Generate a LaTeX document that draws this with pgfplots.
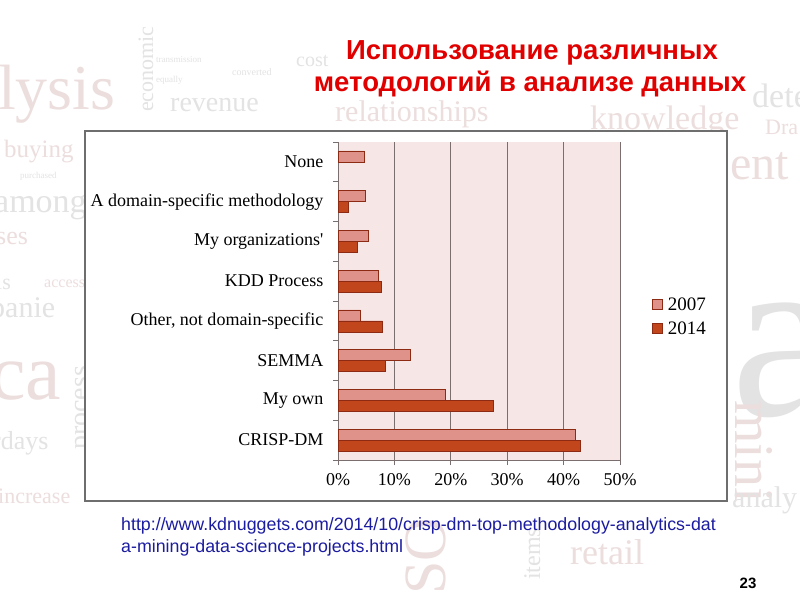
\documentclass[border=0pt]{standalone}
\usepackage{fontspec}
\setmainfont{Liberation Serif}[Ligatures=TeXOff]
\newfontfamily\arial{Liberation Sans}
\usepackage{pgfplots}
\pgfplotsset{compat=1.18}
\definecolor{cA}{HTML}{DF928A}
\definecolor{cB}{HTML}{C2461C}
\definecolor{edge}{HTML}{8C2A14}
\definecolor{plotbg}{HTML}{F7E6E6}
\definecolor{gridc}{HTML}{7A6E6E}
\definecolor{framec}{HTML}{6E6E6E}
\definecolor{wpink}{HTML}{EDDEDE}
\definecolor{wgray}{HTML}{E3E3E3}
\definecolor{titlered}{HTML}{E10000}
\definecolor{urlblue}{HTML}{1C1CA0}
\begin{document}
\begin{tikzpicture}[x=1pt,y=1pt]
\path[use as bounding box, fill=white] (0,0) rectangle (800,600);
% faint background word cloud
\begin{scope}[every node/.style={inner sep=0pt, anchor=base west}]
\node[text=wpink, font=\fontsize{64}{64}\selectfont] at (-2,490) {lysis};
\node[text=wgray, font=\fontsize{22}{22}\selectfont, rotate=90] at (153,488) {economic};
\node[text=wgray, font=\fontsize{9}{9}\selectfont] at (156,537) {transmission};
\node[text=wgray, font=\fontsize{9}{9}\selectfont] at (156,517) {equally};
\node[text=wgray, font=\fontsize{10}{10}\selectfont] at (232,524) {converted};
\node[text=wgray, font=\fontsize{28}{28}\selectfont] at (170,488) {revenue};
\node[text=wpink, font=\fontsize{25}{25}\selectfont] at (4,442) {buying};
\node[text=wgray, font=\fontsize{9}{9}\selectfont] at (20,421) {purchased};
\node[text=wgray, font=\fontsize{34}{34}\selectfont] at (-6,387) {among};
\node[text=wpink, font=\fontsize{26}{26}\selectfont] at (-4,355) {ses};
\node[text=wgray, font=\fontsize{22}{22}\selectfont] at (-4,310) {is};
\node[text=wpink, font=\fontsize{16}{16}\selectfont] at (44,312) {access};
\node[text=wgray, font=\fontsize{30}{30}\selectfont] at (-10,282) {panie};
\node[text=wpink, font=\fontsize{80}{80}\selectfont] at (-10,200) {ca};
\node[text=wgray, font=\fontsize{28}{28}\selectfont, rotate=90] at (88,150) {process};
\node[text=wgray, font=\fontsize{26}{26}\selectfont] at (-8,150) {rdays};
\node[text=wpink, font=\fontsize{22}{22}\selectfont] at (-2,97) {increase};
\node[text=wgray, font=\fontsize{20}{20}\selectfont] at (296,533) {cost};
\node[text=wpink, font=\fontsize{30}{30}\selectfont] at (335,478) {relationships};
\node[text=wpink, font=\fontsize{34}{34}\selectfont] at (590,470) {knowledge};
\node[text=wgray, font=\fontsize{34}{34}\selectfont] at (752,492) {dete};
\node[text=wpink, font=\fontsize{22}{22}\selectfont] at (765,465) {Dra};
\node[text=wpink, font=\fontsize{48}{48}\selectfont] at (730,420) {ent};
\node[text=wgray, font=\fontsize{240}{240}\selectfont] at (731,185) {a};
\node[text=wpink, font=\fontsize{56}{56}\selectfont, rotate=-90] at (735,200) {mini};
\node[text=wgray, font=\fontsize{30}{30}\selectfont] at (732,93) {analy};
\node[text=wpink, font=\fontsize{36}{36}\selectfont] at (570,36) {retail};
\node[text=wgray, font=\fontsize{24}{24}\selectfont, rotate=90] at (540,20) {items};
\node[text=wpink, font=\fontsize{60}{60}\selectfont, rotate=90] at (445,5) {SO};
\end{scope}
% chart frame
\fill[white] (85,99) rectangle (727,469);
\draw[framec, line width=2pt] (85,99) rectangle (727,469);
\begin{axis}[
  at={(338pt,140pt)}, anchor=south west,
  scale only axis, width=282pt, height=318pt,
  xbar, bar width=11pt,
  xmin=0, xmax=50, ymin=-0.5, ymax=7.5,
  axis background/.style={fill=plotbg},
  axis x line*=bottom, axis y line*=left,
  axis line style={draw=gridc, line width=0.8pt},
  tick style={draw=gridc, line width=0.8pt},
  tick align=outside, major tick length=5pt,
  xtick={0,10,20,30,40,50},
  xticklabels={0\%,10\%,20\%,30\%,40\%,50\%},
  xticklabel style={yshift=-5pt},
  xmajorgrids, major grid style={draw=gridc, line width=0.8pt},
  ytick={-0.5,0.5,...,7.5}, yticklabels={},
  extra y ticks={0,1,2,3,4,5,6,7},
  extra y tick labels={CRISP-DM,My own,SEMMA,{Other, not domain-specific},KDD Process,My organizations',A domain-specific methodology,None},
  extra y tick style={major tick length=0pt, yticklabel style={xshift=-11pt}},
  every tick label/.append style={font=\fontsize{18}{21}\selectfont},
  /pgf/number format/assume math mode=true,
  legend style={at={(1.103,0.451)}, anchor=west, draw=none, fill=none,
    font=\fontsize{19}{22}\selectfont, row sep=6pt, cells={anchor=west},
    nodes={inner xsep=5pt}},
  legend image code/.code={\fill[#1] (0pt,-5pt) rectangle (10pt,5pt);},
]
\addplot[fill=cA, draw=edge, line width=0.6pt, bar shift=5.5pt]
  coordinates {(42,0) (19,1) (12.9,2) (4,3) (7.2,4) (5.3,5) (4.8,6) (4.7,7)};
\addplot[fill=cB, draw=edge, line width=0.6pt, bar shift=-5.5pt]
  coordinates {(43,0) (27.5,1) (8.4,2) (7.9,3) (7.6,4) (3.5,5) (1.9,6)};
\legend{2007,2014}
\end{axis}
% title
\node[font=\arial\bfseries\fontsize{27.5}{27.5}\selectfont, text=titlered, anchor=base] at (532,540) {Использование различных};
\node[font=\arial\bfseries\fontsize{27.5}{27.5}\selectfont, text=titlered, anchor=base] at (530,508) {методологий в анализе данных};
% source url
\node[font=\arial\fontsize{17.8}{17.8}\selectfont, text=urlblue, anchor=base west, inner sep=0pt] at (121,70) {http://www.kdnuggets.com/2014/10/crisp-dm-top-methodology-analytics-dat};
\node[font=\arial\fontsize{17.8}{17.8}\selectfont, text=urlblue, anchor=base west, inner sep=0pt] at (121,48) {a-mining-data-science-projects.html};
% page number
\node[font=\arial\bfseries\fontsize{15}{15}\selectfont, anchor=base] at (748,12) {23};
\end{tikzpicture}
\end{document}
